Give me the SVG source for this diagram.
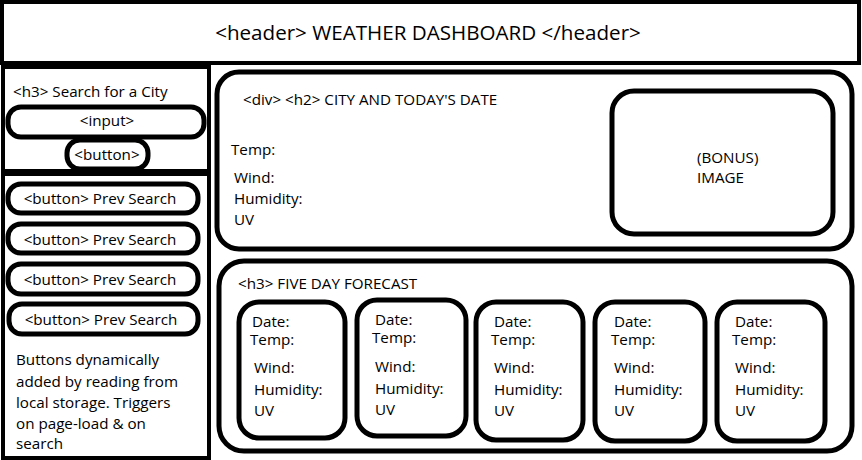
<svg xmlns="http://www.w3.org/2000/svg" width="862" height="460" viewBox="0 0 862 460">
<style>
text{font-family:"Open Sans","Noto Sans","Liberation Sans",sans-serif;font-size:15.2px;fill:#000}
.box{fill:#fff;stroke:#000;stroke-width:4}
.pill{fill:#fff;stroke:#000;stroke-width:5}
.card{fill:#fff;stroke:#000;stroke-width:5}
.c{text-anchor:middle}
</style>
<rect width="862" height="460" fill="#fff"/>
<g id="header">
<rect class="box" x="2" y="2" width="857" height="61"/>
<text class="c" x="428" y="40" style="font-size:20.6px">&lt;header&gt; WEATHER DASHBOARD &lt;/header&gt;</text>
</g>
<g id="search-panel">
<rect class="box" x="3" y="67" width="206" height="104"/>
<text x="13" y="97">&lt;h3&gt; Search for a City</text>
</g>
<g id="search-input">
<rect class="pill" x="8" y="107" width="196" height="30" rx="13"/>
<text class="c" x="107" y="126">&lt;input&gt;</text>
</g>
<g id="search-button">
<rect class="pill" x="67" y="140" width="81" height="29" rx="13"/>
<text class="c" x="107" y="160">&lt;button&gt;</text>
</g>
<g id="history-panel">
<rect class="box" x="3" y="174" width="206" height="284"/>
<text x="16" y="365">Buttons dynamically</text>
<text x="16" y="387">added by reading from</text>
<text x="16" y="408">local storage. Triggers</text>
<text x="16" y="429">on page-load &amp; on</text>
<text x="16" y="449">search</text>
</g>
<g id="prev-1">
<rect class="pill" x="8" y="184" width="190" height="29" rx="13"/>
<text class="c" x="100" y="204">&lt;button&gt; Prev Search</text>
</g>
<g id="prev-2">
<rect class="pill" x="8" y="224" width="190" height="29" rx="13"/>
<text class="c" x="100" y="245">&lt;button&gt; Prev Search</text>
</g>
<g id="prev-3">
<rect class="pill" x="8" y="264" width="190" height="30" rx="13"/>
<text class="c" x="100" y="285">&lt;button&gt; Prev Search</text>
</g>
<g id="prev-4">
<rect class="pill" x="9" y="304" width="189" height="30" rx="13"/>
<text class="c" x="101" y="325">&lt;button&gt; Prev Search</text>
</g>
<g id="current">
<rect class="card" x="217" y="72" width="635" height="177" rx="22"/>
<text x="243" y="105">&lt;div&gt; &lt;h2&gt; CITY AND TODAY'S DATE</text>
<text x="231" y="155">Temp:</text>
<text x="234" y="183">Wind:</text>
<text x="234" y="204">Humidity:</text>
<text x="234" y="225">UV</text>
</g>
<g id="image">
<rect class="card" x="612" y="91" width="221" height="143" rx="22"/>
<text x="697" y="163">(BONUS)</text>
<text x="697" y="183">IMAGE</text>
</g>
<g id="forecast">
<rect class="card" x="219" y="261" width="633" height="190" rx="25"/>
<text x="238" y="289">&lt;h3&gt; FIVE DAY FORECAST</text>
</g>
<g id="day-1">
<rect class="card" x="239" y="302" width="106" height="136" rx="20"/>
<text x="252" y="327">Date:</text><text x="250" y="345">Temp:</text>
<text x="254" y="373">Wind:</text><text x="254" y="395">Humidity:</text><text x="254" y="416">UV</text>
</g>
<g id="day-2">
<rect class="card" x="357" y="300" width="109" height="136" rx="20"/>
<text x="375" y="325">Date:</text><text x="372" y="343">Temp:</text>
<text x="375" y="372">Wind:</text><text x="375" y="394">Humidity:</text><text x="375" y="415">UV</text>
</g>
<g id="day-3">
<rect class="card" x="476" y="302" width="107" height="138" rx="20"/>
<text x="494" y="327">Date:</text><text x="491" y="345">Temp:</text>
<text x="494" y="373">Wind:</text><text x="494" y="395">Humidity:</text><text x="494" y="416">UV</text>
</g>
<g id="day-4">
<rect class="card" x="595" y="302" width="110" height="139" rx="20"/>
<text x="614" y="327">Date:</text><text x="611" y="345">Temp:</text>
<text x="614" y="373">Wind:</text><text x="614" y="395">Humidity:</text><text x="614" y="416">UV</text>
</g>
<g id="day-5">
<rect class="card" x="717" y="302" width="108" height="139" rx="20"/>
<text x="735" y="327">Date:</text><text x="732" y="345">Temp:</text>
<text x="735" y="373">Wind:</text><text x="735" y="395">Humidity:</text><text x="735" y="416">UV</text>
</g>
<g id="connectors"></g>
</svg>
